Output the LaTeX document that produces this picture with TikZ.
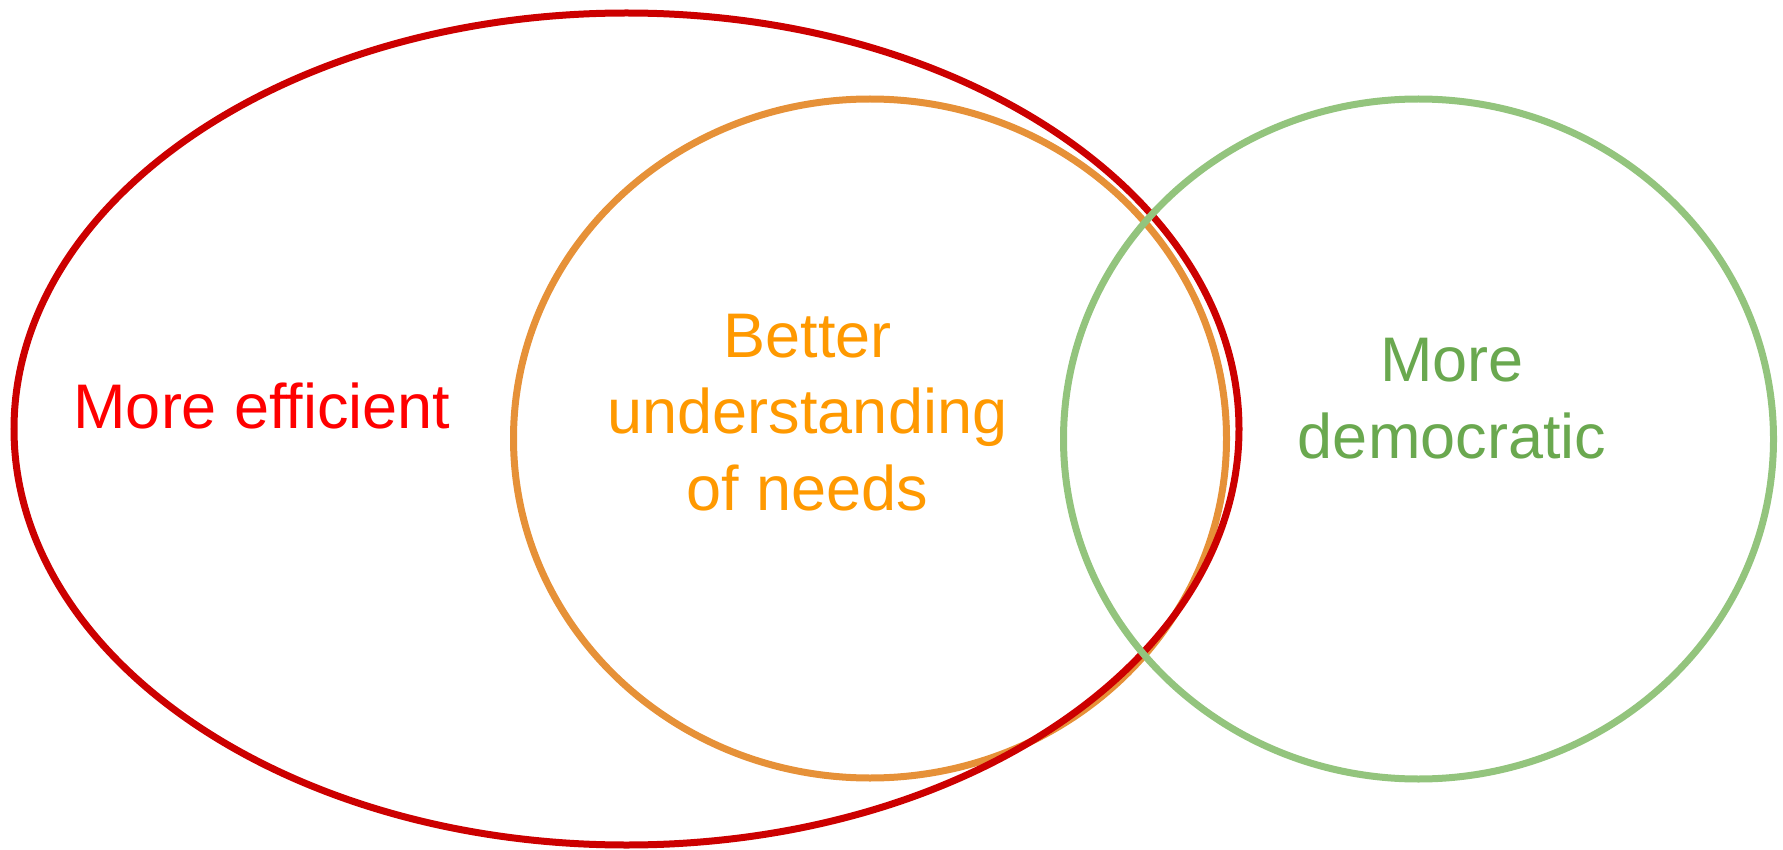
\documentclass[tikz,border=0pt]{standalone}
\usepackage{fontspec}
\setmainfont{Liberation Sans}
\definecolor{redline}{HTML}{CC0000}
\definecolor{orangeline}{HTML}{E69138}
\definecolor{greenline}{HTML}{93C47D}
\definecolor{redtext}{HTML}{FF0000}
\definecolor{orangetext}{HTML}{FF9900}
\definecolor{greentext}{HTML}{6AA84F}
\tikzset{
  ring/.style={line width=7pt},
  lbl/.style={inner sep=0pt, align=center, font=\fontsize{63}{76.5}\selectfont}
}
\begin{document}
\begin{tikzpicture}[x=1pt,y=-1pt]
\useasboundingbox (0,0) rectangle (1783,850);
\draw[ring, orangeline] (870,438.5) ellipse [x radius=356.5, y radius=339.5];
\draw[ring, redline] (626.5,429) ellipse [x radius=612.5, y radius=416];
\draw[ring, greenline] (1418.5,439) ellipse [x radius=355, y radius=340];
\node[lbl, text=redtext, anchor=base] (eff) at (262,428) {More efficient};
\node[lbl, text=orangetext] (und) at (807.5,412.5) {Better\\understanding\\of needs};
\node[lbl, text=greentext] (dem) at (1452,398.5) {More\\democratic};
\end{tikzpicture}
\end{document}
